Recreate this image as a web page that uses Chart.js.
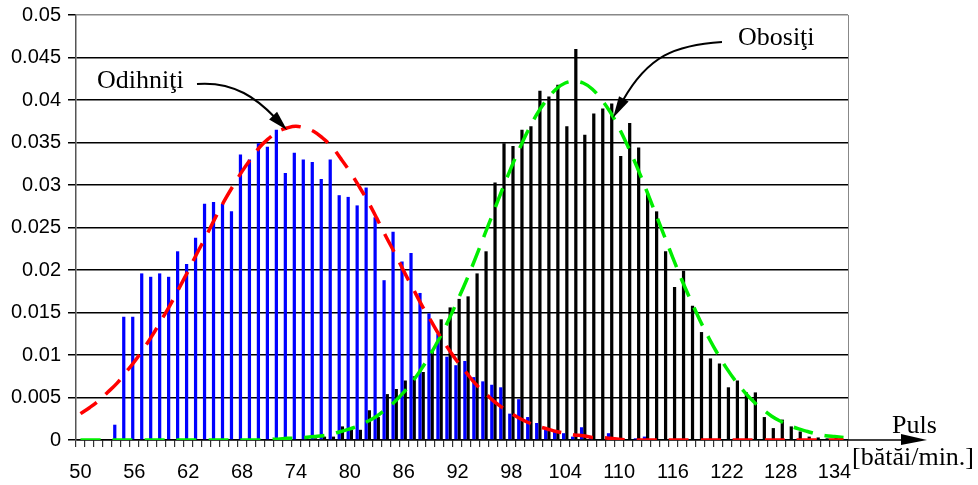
<!DOCTYPE html>
<html lang="ro">
<head>
<meta charset="UTF-8" />
<title>Puls - odihniţi / obosiţi</title>
<script src="https://cdn.jsdelivr.net/npm/chart.js@4.4.0/dist/chart.umd.min.js"></script>
<style>
  html, body { margin: 0; padding: 0; background: #fff; }
  #wrap { width: 978px; height: 485px; position: relative; }
</style>
</head>
<body>
<div id="wrap"><canvas id="pulsChart"></canvas></div>
<script>
// categorii: puls 50..135 [bătăi/min.]
const puls = [];
for (let p = 50; p <= 135; p++) puls.push(String(p));

// frecvenţe relative - odihniţi (bare albastre), 50..135
const odihniti = [
  0, 0, 0, 0, 0.0018, 0.0145, 0.0145, 0.0196, 0.0192, 0.0196,
  0.0192, 0.0222, 0.0207, 0.0238, 0.0278, 0.0280, 0.0278, 0.0269, 0.0336, 0.0330,
  0.0349, 0.0345, 0.0365, 0.0314, 0.0338, 0.0330, 0.0327, 0.0307, 0.0330, 0.0288,
  0.0286, 0.0276, 0.0297, 0.0262, 0.0188, 0.0245, 0.0210, 0.0220, 0.0173, 0.0149,
  0.0125, 0.0098, 0.0088, 0.0093, 0.0074, 0.0069, 0.0065, 0.0062, 0.0031, 0.0048,
  0.0027, 0.0020, 0.0012, 0.0010, 0.0008, 0.0004, 0.0015, 0.0003, 0, 0.0008,
  0, 0, 0.0002, 0.0004, 0, 0, 0, 0, 0, 0,
  0, 0, 0, 0, 0, 0, 0, 0, 0, 0,
  0, 0, 0, 0, 0, 0
];

// frecvenţe relative - obosiţi (bare negre), 50..135
const obositi = [
  0, 0, 0, 0, 0, 0, 0, 0, 0, 0,
  0, 0, 0, 0, 0, 0, 0, 0, 0, 0,
  0, 0, 0, 0, 0.0001, 0.0003, 0.0002, 0.0004, 0.0004, 0.0016,
  0.0012, 0.0012, 0.0035, 0.0027, 0.0054, 0.0060, 0.0070, 0.0075, 0.0080, 0.0106,
  0.0142, 0.0156, 0.0166, 0.0169, 0.0196, 0.0222, 0.0303, 0.0349, 0.0346, 0.0365,
  0.0369, 0.0411, 0.0404, 0.0418, 0.0369, 0.0460, 0.0359, 0.0384, 0.0390, 0.0396,
  0.0334, 0.0373, 0.0344, 0.0290, 0.0269, 0.0222, 0.0180, 0.0199, 0.0158, 0.0127,
  0.0096, 0.0090, 0.0062, 0.0070, 0.0056, 0.0056, 0.0027, 0.0014, 0.0024, 0.0016,
  0.0010, 0.0004, 0.0003, 0.0002, 0.0003, 0
];

// curba ajustată - odihniţi (roşu, întrerupt)
const curbaOdihniti = [
  0.0031, 0.0038, 0.0046, 0.0056, 0.0066, 0.0079, 0.0092, 0.0107, 0.0123, 0.0141,
  0.0159, 0.0179, 0.0199, 0.0220, 0.0240, 0.0261, 0.0281, 0.0299, 0.0316, 0.0331,
  0.0345, 0.0355, 0.0363, 0.0367, 0.0369, 0.0367, 0.0363, 0.0355, 0.0345, 0.0331,
  0.0316, 0.0299, 0.0281, 0.0261, 0.0240, 0.0220, 0.0199, 0.0179, 0.0159, 0.0141,
  0.0123, 0.0107, 0.0092, 0.0079, 0.0066, 0.0056, 0.0046, 0.0038, 0.0031, 0.0025,
  0.0020, 0.0016, 0.0013, 0.0010, 0.0008, 0.0006, 0.0005, 0.0003, 0.0003, 0.0002,
  0.0001, 0, 0, 0, 0, 0, 0, 0, 0, 0,
  0, 0, 0, 0, 0, 0, 0, 0, 0, 0,
  0, 0, 0, 0, 0, 0
];

// curba ajustată - obosiţi (verde, întrerupt)
const curbaObositi = [
  0, 0, 0, 0, 0, 0, 0, 0, 0, 0,
  0, 0, 0, 0, 0, 0, 0, 0, 0, 0,
  0, 0.0001, 0.0001, 0.0002, 0.0002, 0.0003, 0.0004, 0.0005, 0.0007, 0.0010,
  0.0013, 0.0017, 0.0022, 0.0028, 0.0036, 0.0045, 0.0056, 0.0069, 0.0084, 0.0101,
  0.0120, 0.0141, 0.0164, 0.0188, 0.0214, 0.0241, 0.0268, 0.0295, 0.0321, 0.0345,
  0.0367, 0.0386, 0.0401, 0.0413, 0.0420, 0.0422, 0.0420, 0.0413, 0.0401, 0.0386,
  0.0367, 0.0345, 0.0321, 0.0295, 0.0268, 0.0241, 0.0214, 0.0188, 0.0164, 0.0141,
  0.0120, 0.0101, 0.0084, 0.0069, 0.0056, 0.0045, 0.0036, 0.0028, 0.0022, 0.0017,
  0.0013, 0.0010, 0.0007, 0.0005, 0.0004, 0.0003
];

const SANS = "'Liberation Sans', Arial, sans-serif";
const SERIF = "'Liberation Serif', 'Times New Roman', serif";

// săgeată curbă cu vârf plin
function curvedArrow(ctx, p0, c1, c2, tip, headLen, headW) {
  let dx = tip[0] - c2[0], dy = tip[1] - c2[1];
  const len = Math.hypot(dx, dy);
  dx /= len; dy /= len;
  const bx = tip[0] - dx * headLen, by = tip[1] - dy * headLen;
  ctx.beginPath();
  ctx.moveTo(p0[0], p0[1]);
  ctx.bezierCurveTo(c1[0], c1[1], c2[0], c2[1], bx + dx * 2, by + dy * 2);
  ctx.stroke();
  ctx.beginPath();
  ctx.moveTo(tip[0], tip[1]);
  ctx.lineTo(bx - dy * headW / 2, by + dx * headW / 2);
  ctx.lineTo(bx + dy * headW / 2, by - dx * headW / 2);
  ctx.closePath();
  ctx.fill();
}

const adnotari = {
  id: 'adnotari',
  afterDraw(chart) {
    const ctx = chart.ctx;
    const a = chart.chartArea;
    ctx.save();
    // chenar dreapta
    ctx.strokeStyle = '#888';
    ctx.lineWidth = 1;
    ctx.beginPath();
    ctx.moveTo(a.right + 0.5, a.top);
    ctx.lineTo(a.right + 0.5, a.bottom);
    ctx.stroke();
    // axa x prelungită cu săgeată
    ctx.strokeStyle = '#000';
    ctx.fillStyle = '#000';
    ctx.lineWidth = 1.5;
    ctx.beginPath();
    ctx.moveTo(a.right, a.bottom);
    ctx.lineTo(905, a.bottom);
    ctx.stroke();
    ctx.beginPath();
    ctx.moveTo(927, a.bottom);
    ctx.lineTo(901, a.bottom - 6);
    ctx.lineTo(901, a.bottom + 5);
    ctx.closePath();
    ctx.fill();
    // texte
    ctx.font = '26px ' + SERIF;
    ctx.textBaseline = 'alphabetic';
    ctx.textAlign = 'left';
    ctx.fillText('Puls', 892, 433);
    ctx.fillText('[bătăi/min.]', 852, 465);
    ctx.fillText('Odihniţi', 97, 88);
    ctx.fillText('Obosiţi', 738, 45);
    // săgeţi
    ctx.lineWidth = 2;
    curvedArrow(ctx, [197, 84], [235, 81], [258, 100], [287, 130], 20, 11);
    curvedArrow(ctx, [722, 42], [675, 45], [648, 56], [613, 118], 22, 11);
    ctx.restore();
  }
};

new Chart(document.getElementById('pulsChart'), {
  type: 'bar',
  data: {
    labels: puls,
    datasets: [
      {
        type: 'line', label: 'curba odihniţi', data: curbaOdihniti,
        borderColor: '#ff0000', borderWidth: 3.5, borderDash: [20, 12],
        pointRadius: 0, tension: 0.4, fill: false, order: 0
      },
      {
        type: 'line', label: 'curba obosiţi', data: curbaObositi,
        borderColor: '#00ee00', borderWidth: 3.5, borderDash: [20, 12],
        pointRadius: 0, tension: 0.4, fill: false, order: 1
      },
      {
        label: 'Odihniţi', data: odihniti, backgroundColor: '#0000ff',
        categoryPercentage: 0.72, barPercentage: 1.0, order: 2
      },
      {
        label: 'Obosiţi', data: obositi, backgroundColor: '#000000',
        categoryPercentage: 0.72, barPercentage: 1.0, order: 2
      }
    ]
  },
  options: {
    responsive: true,
    maintainAspectRatio: false,
    animation: false,
    layout: { padding: { top: 15, right: 130, left: 0, bottom: 0 } },
    plugins: {
      legend: { display: false },
      tooltip: { enabled: false }
    },
    scales: {
      x: {
        type: 'category',
        offset: true,
        border: { color: '#000', width: 1.5 },
        grid: {
          offset: true, drawOnChartArea: false, drawTicks: true,
          tickLength: 7, color: '#333', lineWidth: 1.2
        },
        ticks: {
          autoSkip: false, maxRotation: 0, minRotation: 0,
          color: '#000', font: { family: SANS, size: 20 }, padding: 13,
          callback: function (v, i) { return i % 6 === 0 ? puls[i] : ''; }
        },
        afterFit: function (s) { s.height = 45; s.paddingLeft = 0; s.paddingRight = 0; }
      },
      y: {
        min: 0, max: 0.05,
        border: { color: '#555', width: 1.5 },
        grid: {
          color: function (c) { return c.tick && c.tick.value >= 0.0499 ? '#888' : '#000'; },
          tickColor: '#000', lineWidth: 1.5, tickLength: 8
        },
        ticks: {
          stepSize: 0.005, color: '#000', padding: 7,
          font: { family: SANS, size: 20 },
          callback: function (v) { return String(+v.toFixed(3)); }
        },
        afterFit: function (s) { s.width = 76; s.paddingTop = 0; s.paddingBottom = 0; }
      }
    }
  },
  plugins: [adnotari]
});
</script>
</body>
</html>
